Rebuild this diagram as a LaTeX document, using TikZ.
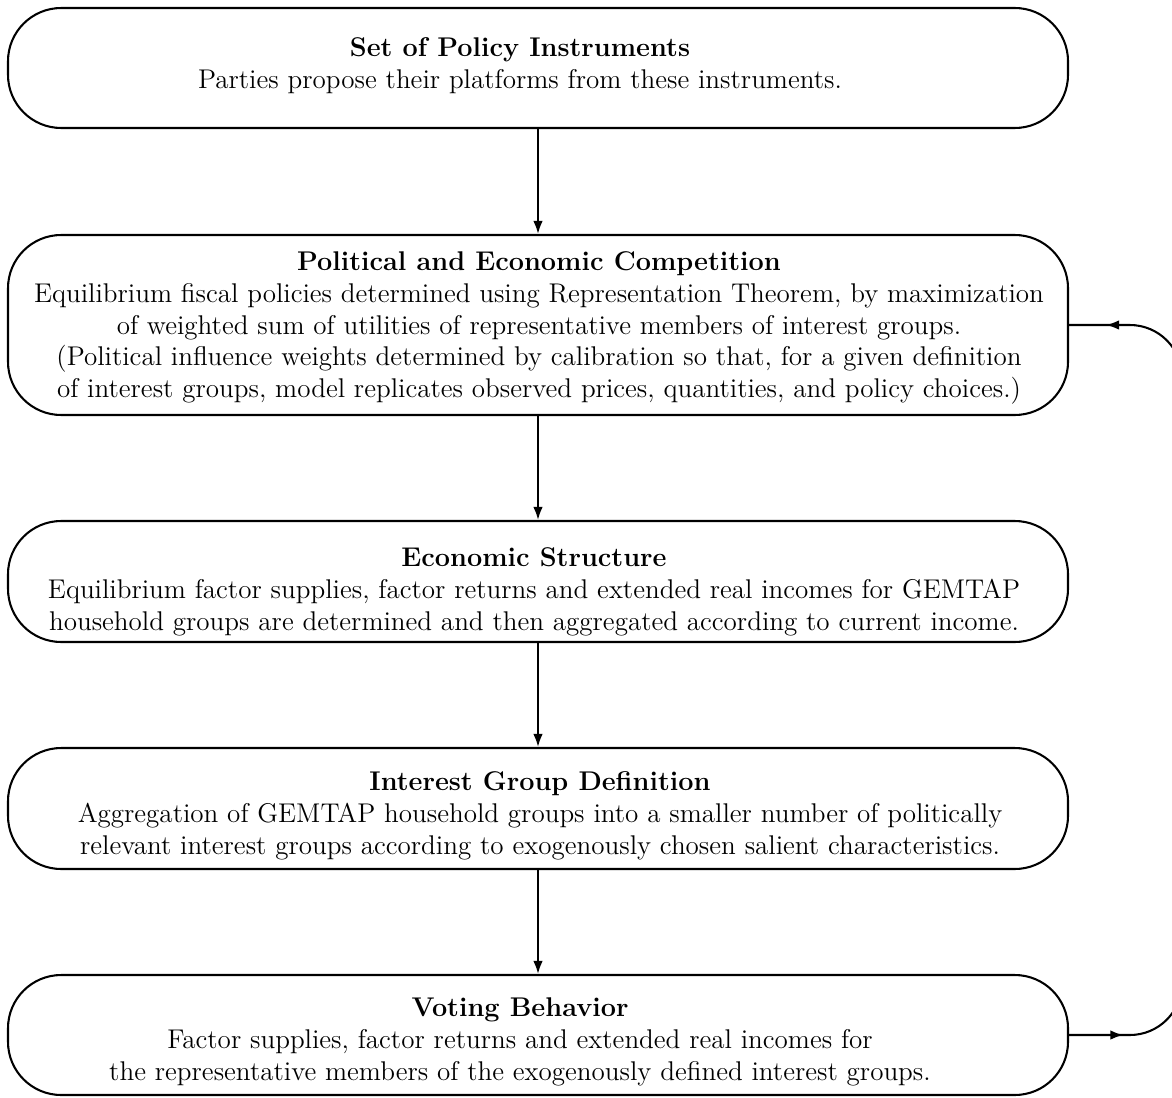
\documentclass[tikz,border=0pt]{standalone}
\usetikzlibrary{arrows.meta,decorations.markings}
\begin{document}
\begin{tikzpicture}[x=0.46pt,y=-0.46pt,
  box/.style={draw,line width=0.95pt,rounded corners=24.5pt,minimum width=1060*0.46pt,inner sep=0pt},
  txt/.style={align=center,font=\fontsize{12.45}{14.6}\selectfont,inner sep=0pt},
  conn/.style={line width=0.95pt,-{Latex[length=6pt,width=4.4pt]}}]
\useasboundingbox (0,0) rectangle (1172,1097);
\clip (0,0) rectangle (1172,1097);
\node[box,minimum height=120*0.46pt] (b1) at (538,68) {};
\node[box,minimum height=180*0.46pt] (b2) at (538,325) {};
\node[box,minimum height=121*0.46pt] (b3) at (538,581.5) {};
\node[box,minimum height=121*0.46pt] (b4) at (538,808.5) {};
\node[box,minimum height=120*0.46pt] (b5) at (538,1035) {};
\node[txt] (t1) at (520,66) {\textbf{Set of Policy Instruments}\\Parties propose their platforms from these instruments.};
\node[txt] (t2) at (539,328) {\textbf{Political and Economic Competition}\\Equilibrium fiscal policies determined using Representation Theorem, by maximization\\of weighted sum of utilities of representative members of interest groups.\\(Political influence weights determined by calibration so that, for a given definition\\of interest groups, model replicates observed prices, quantities, and policy choices.)};
\node[txt] (t3) at (534,592) {\textbf{Economic Structure}\\Equilibrium factor supplies, factor returns and extended real incomes for GEMTAP\\household groups are determined and then aggregated according to current income.};
\node[txt] (t4) at (540,816) {\textbf{Interest Group Definition}\\Aggregation of GEMTAP household groups into a smaller number of politically\\relevant interest groups according to exogenously chosen salient characteristics.};
\node[txt] (t5) at (520,1042) {\textbf{Voting Behavior}\\Factor supplies, factor returns and extended real incomes for\\the representative members of the exogenously defined interest groups.};
\draw[conn] (b1.south) -- (b2.north);
\draw[conn] (b2.south) -- (b3.north);
\draw[conn] (b3.south) -- (b4.north);
\draw[conn] (b4.south) -- (b5.north);
\coordinate (fr) at (1182,1035);
\coordinate (fu) at (1182,325);
\draw[line width=0.95pt,rounded corners=24pt,
  postaction={decorate},
  decoration={markings,
    mark=at position 25pt with {\arrow{Latex[length=6pt,width=4.4pt]}},
    mark=at position -17pt with {\arrow{Latex[length=6pt,width=4.4pt]}}}]
  (b5.east) -- (fr) -- (fu) -- (b2.east);
\end{tikzpicture}
\end{document}
